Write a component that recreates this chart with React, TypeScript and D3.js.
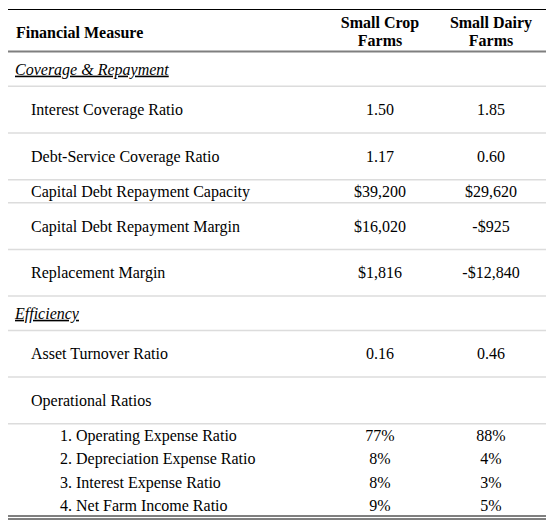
import React from "react";
import * as d3 from "d3";

const measures = [
  "Coverage & Repayment",
  "Interest Coverage Ratio",
  "Debt-Service Coverage Ratio",
  "Capital Debt Repayment Capacity",
  "Capital Debt Repayment Margin",
  "Replacement Margin",
  "Efficiency",
  "Asset Turnover Ratio",
  "Operational Ratios",
  "1. Operating Expense Ratio",
  "2. Depreciation Expense Ratio",
  "3. Interest Expense Ratio",
  "4. Net Farm Income Ratio",
];
const rowKinds = ["section", "tall", "tall", "short", "tall", "tall", "section", "tall", "tall", "sub", "sub", "sub", "sub"];
const smallCrop = ["", "1.50", "1.17", "$39,200", "$16,020", "$1,816", "", "0.16", "", "77%", "8%", "8%", "9%"];
const smallDairy = ["", "1.85", "0.60", "$29,620", "-$925", "-$12,840", "", "0.46", "", "88%", "4%", "3%", "5%"];
const columnHeaders = ["Financial Measure", ["Small Crop", "Farms"], ["Small Dairy", "Farms"]];

const W = 558;
const H = 529;
const X0 = 8;
const X1 = 546;
const FONT = '"Liberation Serif", serif';
const FS = 16;

const heights: Record<string, number> = { section: 34.3, tall: 46.7, short: 23, sub: 23.4 };
const indent: Record<string, number> = { section: 15, tall: 31, short: 31, sub: 60 };

const txt = (extra: React.CSSProperties = {}): React.CSSProperties => ({
  fontFamily: FONT,
  fontSize: FS,
  ...extra,
});

export default function App() {
  const headerBottom = 52;
  const tops: number[] = [];
  let acc = headerBottom;
  rowKinds.forEach((k) => {
    tops.push(acc);
    acc += heights[k];
  });
  const colX = d3.scaleOrdinal<string, number>().domain(["crop", "dairy"]).range([380, 491]);

  return (
    <div style={{ position: "fixed", left: 0, top: 0, background: "#fff" }}>
      <svg width={W} height={H} style={{ display: "block", fontFamily: FONT }}>
        <rect x={0} y={0} width={W} height={H} fill="#fff" />
        <line x1={X0} x2={X1} y1={9.5} y2={9.5} stroke="#000" strokeWidth={1} />
        <text x={16} y={37.5} style={txt({ fontWeight: "bold" })} fill="#000">
          {columnHeaders[0] as string}
        </text>
        {(columnHeaders[1] as string[]).map((t, i) => (
          <text key={"c" + i} x={colX("crop")} y={27.5 + i * 18.5} style={txt({ fontWeight: "bold" })} textAnchor="middle" fill="#000">
            {t}
          </text>
        ))}
        {(columnHeaders[2] as string[]).map((t, i) => (
          <text key={"d" + i} x={colX("dairy")} y={27.5 + i * 18.5} style={txt({ fontWeight: "bold" })} textAnchor="middle" fill="#000">
            {t}
          </text>
        ))}
        <line x1={X0} x2={X1} y1={51.5} y2={51.5} stroke="#7f7f7f" strokeWidth={2} />
        {measures.map((m, i) => {
          const kind = rowKinds[i];
          const top = tops[i];
          const h = heights[kind];
          const cy = top + h / 2;
          const base = cy + 5.5;
          const isSection = kind === "section";
          const nextKind = rowKinds[i + 1];
          const drawLine = i < measures.length - 1 && !(kind === "sub" && nextKind === "sub");
          return (
            <g key={m}>
              <text
                x={indent[kind]}
                y={base}
                style={txt(isSection ? { fontStyle: "italic", textDecoration: "underline" } : {})}
                fill="#000"
              >
                {m}
              </text>
              {smallCrop[i] && (
                <text x={colX("crop")} y={base} style={txt()} textAnchor="middle" fill="#000">
                  {smallCrop[i]}
                </text>
              )}
              {smallDairy[i] && (
                <text x={colX("dairy")} y={base} style={txt()} textAnchor="middle" fill="#000">
                  {smallDairy[i]}
                </text>
              )}
              {drawLine && (
                <line x1={X0} x2={X1} y1={top + h} y2={top + h} stroke="#dcdcdc" strokeWidth={1.5} />
              )}
            </g>
          );
        })}
        <line x1={X0} x2={X1} y1={516} y2={516} stroke="#000" strokeWidth={1} />
        <line x1={X0} x2={X1} y1={519} y2={519} stroke="#000" strokeWidth={1} />
      </svg>
    </div>
  );
}
